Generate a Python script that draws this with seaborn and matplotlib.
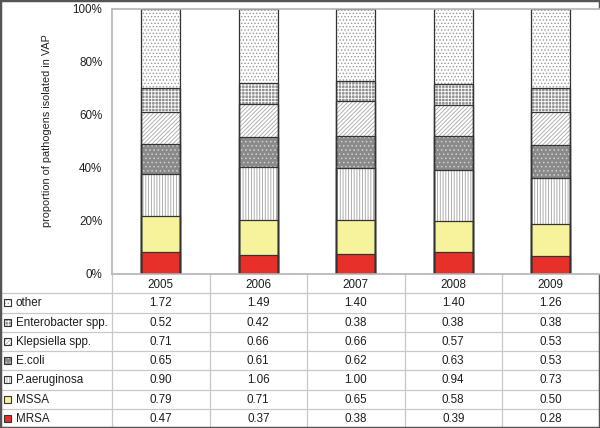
import matplotlib
matplotlib.use("Agg")
import matplotlib.pyplot as plt
from matplotlib.patches import Rectangle
from matplotlib.ticker import PercentFormatter
import numpy as np
import pandas as pd
import seaborn as sns

years = ["2005", "2006", "2007", "2008", "2009"]
pathogens = ["other", "Enterobacter spp.", "Klepsiella spp.", "E.coli",
             "P.aeruginosa", "MSSA", "MRSA"]
other = [1.72, 1.49, 1.40, 1.40, 1.26]
enterobacter = [0.52, 0.42, 0.38, 0.38, 0.38]
klepsiella = [0.71, 0.66, 0.66, 0.57, 0.53]
ecoli = [0.65, 0.61, 0.62, 0.63, 0.53]
paeruginosa = [0.90, 1.06, 1.00, 0.94, 0.73]
mssa = [0.79, 0.71, 0.65, 0.58, 0.50]
mrsa = [0.47, 0.37, 0.38, 0.39, 0.28]

# face colour, hatch, hatch colour
styles = {
    "other": ("white", ".....", "#9a9a9a"),
    "Enterobacter spp.": ("#909090", "+++++", "white"),
    "Klepsiella spp.": ("white", "////////", "#a8a8a8"),
    "E.coli": ("#8a8a8a", "....", "#d0d0d0"),
    "P.aeruginosa": ("white", "||||||", "#a0a0a0"),
    "MSSA": ("#f6f39c", "", "#f6f39c"),
    "MRSA": ("#e8302a", "", "#e8302a"),
}

sns.set_theme(style="white")
plt.rcParams["font.family"] = ["Liberation Sans", "DejaVu Sans"]
plt.rcParams["hatch.linewidth"] = 0.6

df = pd.DataFrame({
    "other": other, "Enterobacter spp.": enterobacter,
    "Klepsiella spp.": klepsiella, "E.coli": ecoli,
    "P.aeruginosa": paeruginosa, "MSSA": mssa, "MRSA": mrsa,
}, index=years)
share = df.div(df.sum(axis=1), axis=0)
cum = share[pathogens[::-1]].cumsum(axis=1)   # stacked from MRSA upward

W, H = 600, 428
fig = plt.figure(figsize=(6, 4.28), dpi=100)

# table layout (pixels)
left_col = 112
col_w = (W - 0.5 - left_col) / len(years)
ax_top, ax_bot = 8.5, 273.5
head_h = 19.8
row_h = (H - ax_bot - head_h) / len(pathogens)

tab = fig.add_axes([0, 0, 1, 1])
tab.set_xlim(0, W)
tab.set_ylim(H, 0)
tab.axis("off")

ax = fig.add_axes([left_col / W, (H - ax_bot) / H, (W - 0.5 - left_col) / W,
                   (ax_bot - ax_top) / H])
ax.set_zorder(2)

# overlapping cumulative bars, tallest first
for name in pathogens:
    face, hatch, hc = styles[name]
    sns.barplot(x=years, y=cum[name].values, order=years, color=face,
                saturation=1, hatch=hatch, edgecolor=hc, linewidth=0,
                width=0.4, errorbar=None, ax=ax)

for p in list(ax.patches):
    ax.add_patch(Rectangle((p.get_x(), p.get_y()), p.get_width(), p.get_height(),
                           fill=False, edgecolor="#333333", linewidth=0.9))

ax.set_xlim(-0.5, len(years) - 0.5)
ax.set_ylim(0, 1)
ax.set_yticks(np.linspace(0, 1, 6))
ax.yaxis.set_major_formatter(PercentFormatter(1.0, decimals=0))
ax.set_xticks([])
ax.set_xlabel("")
ax.tick_params(axis="y", length=0, pad=7, labelsize=8.4, labelcolor="#222222")
ax.set_ylabel("proportion of pathogens isolated in VAP", fontsize=7.8,
              color="#222222")
ax.yaxis.set_label_coords(-0.124, 0.54)
for side in ["left", "top", "bottom"]:
    ax.spines[side].set_color("#b4b4b4")
    ax.spines[side].set_linewidth(1.2)
ax.spines["right"].set_visible(False)

# --- data table ---
grid = "#c8c8c8"
txt = "#1e1e1e"
table_top = ax_bot + head_h
for i in range(len(pathogens)):
    y = table_top + i * row_h
    tab.plot([0, W], [y, y], color=grid, lw=0.9)
for k in range(len(years) + 1):
    x = left_col + k * col_w
    tab.plot([x, x], [ax_bot, H], color=grid, lw=0.9)

for j, yr in enumerate(years):
    tab.text(left_col + (j + 0.5) * col_w, ax_bot + head_h / 2 + 2, yr,
             ha="center", va="center", fontsize=8.4, color=txt)

for i, name in enumerate(pathogens):
    yc = table_top + (i + 0.5) * row_h
    face, hatch, hc = styles[name]
    tab.add_patch(Rectangle((4, yc - 3.5), 7, 7, facecolor=face, hatch=hatch,
                            edgecolor=hc, linewidth=0))
    tab.add_patch(Rectangle((4, yc - 3.5), 7, 7, fill=False,
                            edgecolor="#333333", linewidth=0.8))
    tab.text(16, yc + 0.5, name, ha="left", va="center", fontsize=8.4, color=txt)
    for j, v in enumerate(df[name]):
        tab.text(left_col + (j + 0.5) * col_w, yc + 0.5, f"{v:.2f}",
                 ha="center", va="center", fontsize=8.4, color=txt)

# outer frame of the image
fig.patches.append(Rectangle((0, 0), 1, 1, transform=fig.transFigure,
                             fill=False, edgecolor="#555555", linewidth=2.5))

fig.savefig("out.png", dpi=100)
